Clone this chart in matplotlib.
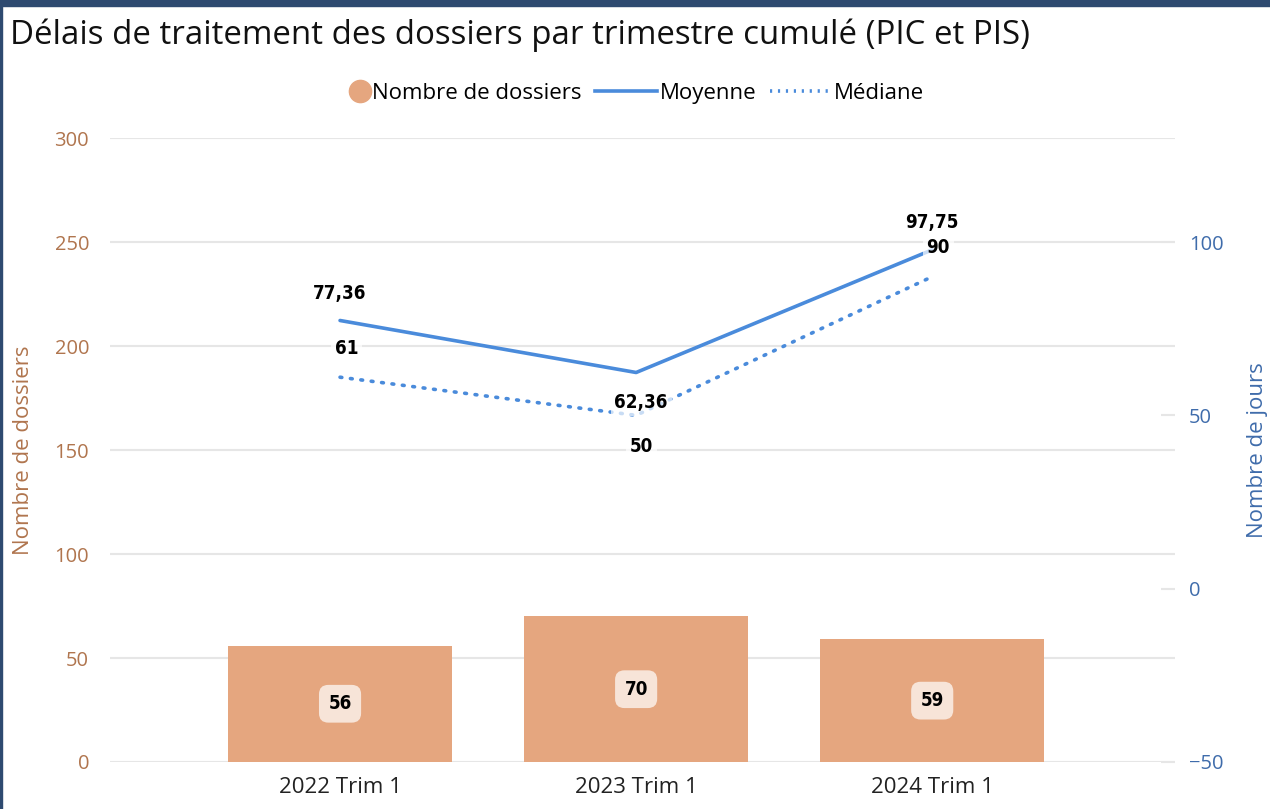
import matplotlib.pyplot as plt
from matplotlib.patches import Rectangle
from matplotlib.lines import Line2D
from matplotlib.legend_handler import HandlerLine2D

# data
categories = ['2022 Trim 1', '2023 Trim 1', '2024 Trim 1']
nb_dossiers = [56, 70, 59]
moyenne = [77.36, 62.36, 97.75]
mediane = [61, 50, 90]
moyenne_labels = ['77,36', '62,36', '97,75']
mediane_labels = ['61', '50', '90']

BAR = '#E5A67F'
LINE = '#4A8BDB'
LEFT_C = '#B0754E'
RIGHT_C = '#3F6CAB'
GRID = '#E6E6E6'

plt.rcParams['font.family'] = ['Open Sans', 'DejaVu Sans']
label_font = dict(family='DejaVu Sans', fontstretch='condensed',
                  fontweight='bold', fontsize=13.5)


class RightMarker(HandlerLine2D):
    # put the legend dot next to its text instead of centred in the handle
    def create_artists(self, legend, orig_handle, xdescent, ydescent,
                       width, height, fontsize, trans):
        arts = super().create_artists(legend, orig_handle, xdescent, ydescent,
                                      width, height, fontsize, trans)
        for a in arts:
            if a.get_marker() not in (None, 'None', ''):
                a.set_xdata([width - 7])
        return arts


fig = plt.figure(figsize=(12.7, 8.09), dpi=100)
ax = fig.add_axes([0.0866, 0.0581, 0.8386, 0.7713])
x = list(range(len(categories)))

# bars (left axis)
ax.bar(x, nb_dossiers, width=0.757, color=BAR, zorder=2)
for xi, v in zip(x, nb_dossiers):
    ax.text(xi, v / 2, str(v), ha='center', va='center', zorder=5,
            bbox=dict(boxstyle='round,pad=0.5,rounding_size=0.5',
                      fc='#F7E4D8', ec='none'), **label_font)
ax.set_ylim(0, 300)
ax.set_yticks(range(0, 301, 50))
ax.set_xlim(-0.777, 2.82)
ax.set_xticks(x)
ax.set_xticklabels(categories, fontsize=16, color='#222222')
ax.tick_params(axis='x', length=0, pad=11)
ax.tick_params(axis='y', length=0, pad=15, labelsize=14.5, labelcolor=LEFT_C)
ax.grid(axis='y', color=GRID, linewidth=1.5, zorder=0)
ax.set_axisbelow(True)
for s in ax.spines.values():
    s.set_visible(False)
ax.set_ylabel('Nombre de dossiers', fontsize=16, color=LEFT_C, labelpad=15)

# lines (right axis)
ax2 = ax.twinx()
ax2.plot(x, moyenne, color=LINE, linewidth=2.6, solid_capstyle='round', zorder=3)
ax2.plot(x, mediane, color=LINE, linewidth=2.6, linestyle=(0, (0.5, 2.4)),
         dash_capstyle='round', zorder=3)
ax2.set_ylim(-50, 130)
ax2.set_yticks([-50, 0, 50, 100])
ax2.tick_params(axis='y', direction='in', length=10, width=1.5, color=GRID,
                pad=10, labelsize=14.5, labelcolor=RIGHT_C)
for s in ax2.spines.values():
    s.set_visible(False)
ax2.set_ylabel('Nombre de jours', fontsize=16, color=RIGHT_C, labelpad=17)

box = dict(boxstyle='square,pad=0.2', fc='white', ec='none', alpha=0.7)
moy_off = [(0, 19.5), (3.6, -21.6), (0, 20)]
med_off = [(5, 21), (3.6, -22.3), (4.3, 21)]
for xi, v, t, o in zip(x, moyenne, moyenne_labels, moy_off):
    ax2.annotate(t, (xi, v), xytext=o, textcoords='offset points',
                 ha='center', va='center', bbox=box, zorder=6, **label_font)
for xi, v, t, o in zip(x, mediane, mediane_labels, med_off):
    ax2.annotate(t, (xi, v), xytext=o, textcoords='offset points',
                 ha='center', va='center', bbox=box, zorder=6, **label_font)

# title and legend
fig.text(0.008, 0.957, 'Délais de traitement des dossiers par trimestre cumulé (PIC et PIS)',
         fontsize=23.8, va='center', ha='left', color='#111111')
handles = [
    Line2D([], [], marker='o', color='none', markerfacecolor=BAR,
           markeredgecolor=BAR, markersize=16),
    Line2D([], [], color=LINE, linewidth=2.6),
    Line2D([], [], color=LINE, linewidth=2.6, linestyle=(0, (0.6, 1.6))),
]
fig.legend(handles, ['Nombre de dossiers', 'Moyenne', 'Médiane'],
           loc='center', bbox_to_anchor=(0.485, 0.885), ncol=3, frameon=False,
           fontsize=16, handlelength=2.8, handletextpad=0.1, columnspacing=0.6,
           handler_map={handles[0]: RightMarker(numpoints=1)})

# frame border
fig.patches.append(Rectangle((0, 0.9925), 1, 0.0075, transform=fig.transFigure,
                             color='#2E4A70', zorder=10))
fig.patches.append(Rectangle((0, 0), 0.0018, 1, transform=fig.transFigure,
                             color='#2E4A70', zorder=10))

fig.savefig('out.png', dpi=100)
